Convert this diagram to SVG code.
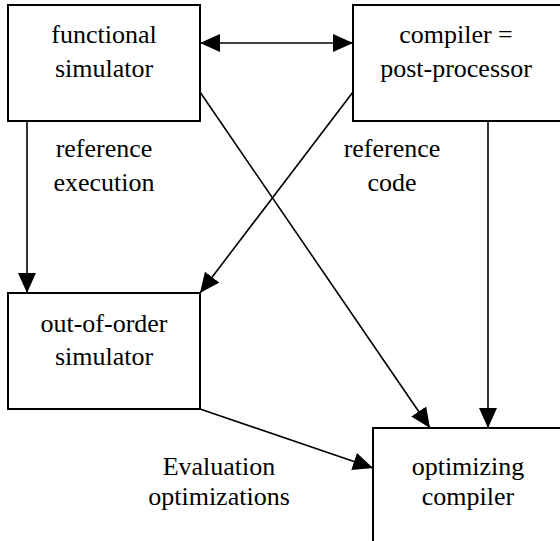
<svg xmlns="http://www.w3.org/2000/svg" width="560" height="541" viewBox="0 0 560 541">
<style>
.box{fill:#fff;stroke:#000;stroke-width:2}
.t{font-family:'Liberation Serif',Tinos,'Times New Roman',Times,'DejaVu Serif',serif;font-size:26px;fill:#000;text-anchor:middle}
.c{stroke:#000;stroke-width:1.6;fill:none;marker-end:url(#ah)}
</style>
<defs>
<marker id="ah" viewBox="0 0 20 18" refX="20" refY="9" markerWidth="20" markerHeight="18" markerUnits="userSpaceOnUse" orient="auto-start-reverse">
<path d="M0,0 L20,9 L0,18 Z" fill="#000"/>
</marker>
</defs>
<rect width="560" height="541" fill="#fff"/>
<g id="connectors">
<line class="c" x1="200" y1="43" x2="353" y2="43" marker-start="url(#ah)"/>
<line class="c" x1="27" y1="121" x2="27" y2="293"/>
<line class="c" x1="353" y1="92" x2="200" y2="293"/>
<line class="c" x1="200" y1="92" x2="430" y2="428"/>
<line class="c" x1="488" y1="121" x2="488" y2="428"/>
<line class="c" x1="200" y1="409" x2="373" y2="468"/>
<text class="t" x="104" y="157">reference</text>
<text class="t" x="104" y="191">execution</text>
<text class="t" x="392" y="157">reference</text>
<text class="t" x="392" y="191">code</text>
<text class="t" x="219" y="475">Evaluation</text>
<text class="t" x="219" y="505">optimizations</text>
</g>
<g id="functional-simulator">
<rect class="box" x="8" y="5" width="192" height="116"/>
<text class="t" x="104" y="43">functional</text>
<text class="t" x="104" y="77">simulator</text>
</g>
<g id="compiler-post-processor">
<rect class="box" x="353" y="5" width="215" height="116"/>
<text class="t" x="456" y="43">compiler =</text>
<text class="t" x="456" y="77">post-processor</text>
</g>
<g id="out-of-order-simulator">
<rect class="box" x="8" y="293" width="192" height="116"/>
<text class="t" x="104" y="332">out-of-order</text>
<text class="t" x="104" y="365">simulator</text>
</g>
<g id="optimizing-compiler">
<rect class="box" x="373" y="428" width="195" height="125"/>
<text class="t" x="468" y="475">optimizing</text>
<text class="t" x="468" y="505">compiler</text>
</g>
</svg>
